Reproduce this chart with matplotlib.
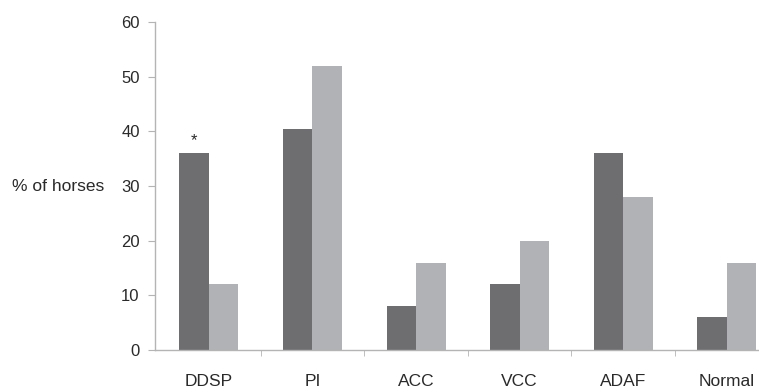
"""Grouped bar chart: % of horses per diagnosis."""

import matplotlib
matplotlib.use("Agg")
import matplotlib.pyplot as plt
import numpy as np

categories = ["DDSP", "PI", "ACC", "VCC", "ADAF", "Normal"]
group_a = [36, 40.4, 8, 12, 36, 6]
group_b = [12, 52, 16, 20, 28, 16]
y_ticks = [0, 10, 20, 30, 40, 50, 60]

DARK = "#6e6e71"
LIGHT = "#b1b2b5"
AXIS = "#b4b4b4"
TEXT = "#2a2a2a"

plt.rcParams["font.family"] = ["Liberation Sans", "DejaVu Sans"]

fig = plt.figure(figsize=(7.59, 3.9), dpi=100)
ax = fig.add_axes([155 / 759, 40 / 390, 1 - 155 / 759, 328 / 390])

x = np.arange(len(categories))
width = 0.285
ax.bar(x - width / 2, group_a, width, color=DARK, edgecolor="none")
ax.bar(x + width / 2, group_b, width, color=LIGHT, edgecolor="none")

# significance marker on DDSP
ax.text(x[0] - width / 2, group_a[0] + 1.0, "*", ha="center", va="bottom",
        fontsize=12, color=TEXT)

ax.set_xlim(-0.52, len(categories) - 0.69)
ax.set_ylim(0, 60)
ax.set_yticks(y_ticks)
ax.set_xticks(x)
ax.set_xticklabels(categories)
ax.set_xticks(x[:-1] + 0.5, minor=True)

for side in ("top", "right"):
    ax.spines[side].set_visible(False)
for side in ("left", "bottom"):
    ax.spines[side].set_color(AXIS)
    ax.spines[side].set_linewidth(1.0)

ax.tick_params(axis="y", length=5, color=AXIS, labelsize=12, labelcolor=TEXT, pad=6)
ax.tick_params(axis="x", which="major", length=0, labelsize=12.5, labelcolor=TEXT, pad=17)
ax.tick_params(axis="x", which="minor", length=4, color=AXIS)

fig.text(12 / 759, 1 - 186 / 390, "% of horses", ha="left", va="center",
         fontsize=12.5, color=TEXT)

fig.savefig("out.png", dpi=100)
plt.close(fig)
